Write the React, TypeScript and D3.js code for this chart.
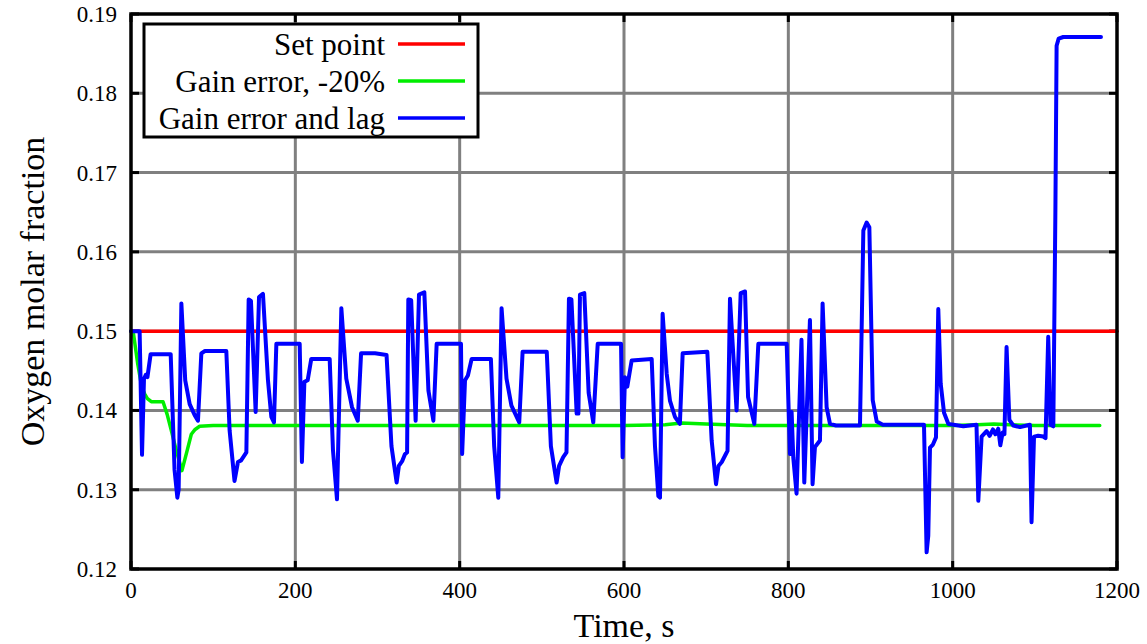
import React from "react";
import * as d3 from "d3";

const xTicks = [0, 200, 400, 600, 800, 1000, 1200];
const yTicks = [0.12, 0.13, 0.14, 0.15, 0.16, 0.17, 0.18, 0.19];

const setPointT = [0, 1200];
const setPointV = [0.15, 0.15];

const gainT = [0, 3, 8, 13, 16.6, 20, 24.7, 39, 44, 49, 55, 62, 68, 73.4, 78, 83.6, 100, 200, 300, 400, 500, 600, 650, 670, 700, 750, 800, 900, 1000, 1030, 1050, 1070, 1100, 1150, 1179];
const gainV = [0.15, 0.1497, 0.146, 0.143, 0.1421, 0.1415, 0.1411, 0.1411, 0.1395, 0.1375, 0.135, 0.1324, 0.1348, 0.137, 0.1376, 0.138, 0.1381, 0.1381, 0.1381, 0.1381, 0.1381, 0.1381, 0.1382, 0.1384, 0.1383, 0.1381, 0.1381, 0.1381, 0.1381, 0.1382, 0.1383, 0.1382, 0.1381, 0.1381, 0.1381];

const lagT = [0, 10.5, 13.4, 15.8, 18, 20, 23.9, 48.3, 53, 56.4, 58, 61.3, 66, 71.4, 77.5, 81.5, 85.6, 90, 116, 120, 126, 130.2, 134, 140.4, 143.2, 146, 151.7, 155.8, 160.6, 166.7, 170.8, 174, 176.9, 205.3, 208, 211, 215, 219.4, 241.8, 245.8, 250.7, 256, 262, 269, 276, 280, 297, 311, 317, 323.3, 326, 330, 333.4, 336, 337.5, 341, 346.4, 350.5, 357, 362, 368, 372, 401.6, 403, 406.5, 410, 414.6, 438, 442, 447, 451, 457, 463, 472.5, 476.6, 506, 511, 518, 521, 526, 530, 533, 536, 542.4, 544.5, 546.4, 551.7, 557, 562.6, 568, 596.4, 598.3, 601.2, 604, 609.3, 633.7, 637.7, 641.8, 643.8, 647, 652, 656, 662, 668, 671.4, 701.4, 706.7, 712, 715, 719, 724, 726, 729, 737, 742, 747.3, 751, 758.6, 763.5, 798, 802, 804, 806, 810, 816, 819.4, 826.3, 829.5, 832.4, 838.5, 841.7, 846.6, 850.7, 858, 887.2, 891.3, 895.3, 898.6, 902.7, 907.6, 915, 965.1, 968.3, 970.3, 972.4, 976, 979.7, 982.5, 985.4, 989.5, 994.8, 1013, 1029, 1031.2, 1035.2, 1041.3, 1045, 1049, 1052, 1055.5, 1058, 1060.8, 1063, 1065.6, 1069, 1073.8, 1082, 1090, 1094, 1096, 1099, 1104, 1110.3, 1113, 1116.3, 1119, 1122.5, 1125, 1126.5, 1129, 1134.6, 1180.5];
const lagV = [0.15, 0.15, 0.1344, 0.144, 0.1445, 0.1442, 0.1471, 0.1471, 0.1325, 0.129, 0.13, 0.1535, 0.1438, 0.1408, 0.1394, 0.1387, 0.1472, 0.1475, 0.1475, 0.1375, 0.1311, 0.1335, 0.1337, 0.1347, 0.154, 0.1538, 0.1398, 0.1543, 0.1547, 0.1438, 0.1392, 0.1385, 0.1484, 0.1484, 0.1335, 0.1436, 0.1438, 0.1465, 0.1465, 0.135, 0.1288, 0.1529, 0.144, 0.1404, 0.1387, 0.1472, 0.1472, 0.147, 0.1355, 0.1309, 0.133, 0.1336, 0.1345, 0.1347, 0.154, 0.1539, 0.1387, 0.1546, 0.1549, 0.1425, 0.1387, 0.1484, 0.1484, 0.1345, 0.1438, 0.1444, 0.1465, 0.1465, 0.1355, 0.129, 0.1529, 0.144, 0.1406, 0.1385, 0.1474, 0.1474, 0.1355, 0.1309, 0.133, 0.1341, 0.1347, 0.1541, 0.154, 0.1396, 0.1396, 0.1546, 0.1548, 0.1422, 0.1385, 0.1484, 0.1484, 0.1341, 0.1442, 0.143, 0.1463, 0.1465, 0.1355, 0.1292, 0.129, 0.1522, 0.1446, 0.1412, 0.1392, 0.1383, 0.1472, 0.1474, 0.1362, 0.1307, 0.133, 0.1335, 0.1345, 0.1349, 0.1541, 0.14, 0.1548, 0.155, 0.1417, 0.1383, 0.1484, 0.1484, 0.1345, 0.1398, 0.1341, 0.1295, 0.1489, 0.1309, 0.1514, 0.1307, 0.1354, 0.1362, 0.1535, 0.1404, 0.1383, 0.1381, 0.1381, 0.1627, 0.1637, 0.1631, 0.1413, 0.1386, 0.1382, 0.1382, 0.1221, 0.1242, 0.1353, 0.1357, 0.1366, 0.1528, 0.1434, 0.1397, 0.1383, 0.138, 0.1382, 0.1286, 0.1367, 0.1374, 0.1368, 0.1376, 0.137, 0.1377, 0.1356, 0.1372, 0.137, 0.148, 0.1388, 0.1381, 0.1379, 0.1381, 0.1382, 0.1259, 0.1367, 0.1368, 0.1367, 0.1365, 0.1493, 0.1382, 0.138, 0.165, 0.186, 0.1869, 0.1871, 0.1871];

const seriesNames = ["Set point", "Gain error, -20%", "Gain error and lag"];
const seriesColors = ["#ff0000", "#00ee00", "#0000ff"];

const FONT = "'Liberation Serif', 'Times New Roman', serif";

export default function App() {
  const W = 1147, H = 644;
  const L = 131, R = 1117, T = 14, B = 569;
  const x = d3.scaleLinear().domain([0, 1200]).range([L, R]);
  const y = d3.scaleLinear().domain([0.12, 0.19]).range([B, T]);

  const mk = (ts: number[], vs: number[]) =>
    d3.line<number>().x((_, i) => x(ts[i])).y((v) => y(v))(vs) || "";

  const series = [
    { d: mk(setPointT, setPointV), w: 3.5 },
    { d: mk(gainT, gainV), w: 3.5 },
    { d: mk(lagT, lagV), w: 4 },
  ];

  return (
    <svg width={W} height={H} style={{ position: "absolute", left: 0, top: 0, background: "#fff" }}>
      <rect x={0} y={0} width={W} height={H} fill="#fff" />
      {/* grid */}
      {xTicks.slice(1, -1).map((t) => (
        <line key={"gx" + t} x1={x(t)} x2={x(t)} y1={T} y2={B} stroke="#808080" strokeWidth={3} />
      ))}
      {yTicks.slice(1, -1).map((t) => (
        <line key={"gy" + t} x1={L} x2={R} y1={y(t)} y2={y(t)} stroke="#808080" strokeWidth={3} />
      ))}
      {/* ticks */}
      {xTicks.map((t) => (
        <g key={"tx" + t}>
          <line x1={x(t)} x2={x(t)} y1={B} y2={B - 8} stroke="#000" strokeWidth={3} />
          <line x1={x(t)} x2={x(t)} y1={T} y2={T + 8} stroke="#000" strokeWidth={3} />
          <text x={x(t)} y={598} textAnchor="middle" fontFamily={FONT} fontSize={23}>
            {d3.format("d")(t)}
          </text>
        </g>
      ))}
      {yTicks.map((t) => (
        <g key={"ty" + t}>
          <line x1={L} x2={L + 8} y1={y(t)} y2={y(t)} stroke="#000" strokeWidth={3} />
          <line x1={R} x2={R - 8} y1={y(t)} y2={y(t)} stroke="#000" strokeWidth={3} />
          <text x={117} y={y(t)} dy="0.35em" textAnchor="end" fontFamily={FONT} fontSize={23}>
            {d3.format(".2f")(t)}
          </text>
        </g>
      ))}
      {/* series */}
      <g>
        {series.map((s, i) => (
          <path key={i} d={s.d} fill="none" stroke={seriesColors[i]} strokeWidth={s.w} strokeLinejoin="round" strokeLinecap="round" />
        ))}
      </g>
      {/* frame */}
      <rect x={L} y={T} width={R - L} height={B - T} fill="none" stroke="#000" strokeWidth={3.5} />
      {/* legend */}
      <rect x={144} y={24} width={334} height={113} fill="#fff" stroke="#000" strokeWidth={3} />
      {seriesNames.map((n, i) => (
        <g key={n}>
          <text x={385} y={44 + i * 37} dy="0.35em" textAnchor="end" fontFamily={FONT} fontSize={31}>
            {n}
          </text>
          <line x1={398} x2={465} y1={44 + i * 37} y2={44 + i * 37} stroke={seriesColors[i]} strokeWidth={3.5} />
        </g>
      ))}
      {/* axis titles */}
      <text x={(L + R) / 2} y={637} textAnchor="middle" fontFamily={FONT} fontSize={34}>
        Time, s
      </text>
      <text transform={`translate(44, ${(T + B) / 2}) rotate(-90)`} textAnchor="middle" fontFamily={FONT} fontSize={34}>
        Oxygen molar fraction
      </text>
    </svg>
  );
}
